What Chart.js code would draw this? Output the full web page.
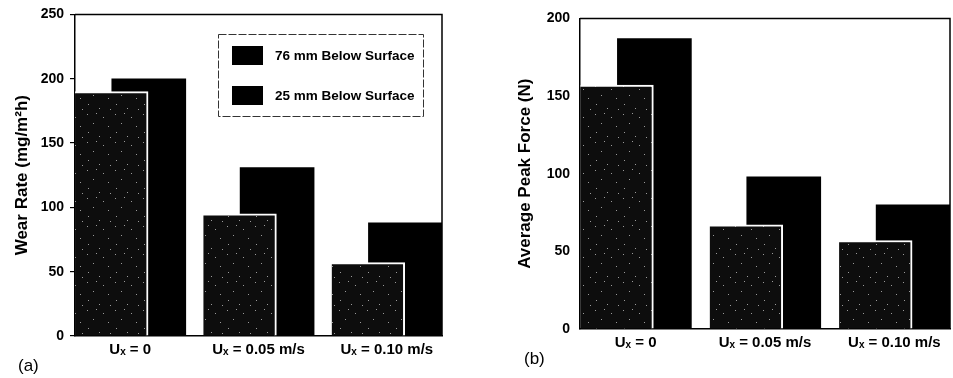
<!DOCTYPE html>
<html><head><meta charset="utf-8">
<script src="https://cdn.jsdelivr.net/npm/chart.js@4.4.0/dist/chart.umd.min.js"></script>
<style>
html,body{margin:0;padding:0;background:#fff;width:953px;height:378px;overflow:hidden;}
#a{position:absolute;left:0;top:0;}
#b{position:absolute;left:480px;top:0;}
.pl{position:absolute;font:17px 'Liberation Sans',Arial,sans-serif;color:#000;}
</style></head><body>
<canvas id="a" width="480" height="378"></canvas>
<canvas id="b" width="473" height="378"></canvas>
<div class="pl" style="left:18px;top:356px">(a)</div>
<div class="pl" style="left:524px;top:349px">(b)</div>
<script>
const categories = ['Uₓ = 0', 'Uₓ = 0.05 m/s', 'Uₓ = 0.10 m/s'];
const seriesNames = ['76 mm Below Surface', '25 mm Below Surface'];
const wearRate76 = [190, 95, 57];
const wearRate25 = [200, 131, 88];
const peakForce76 = [157, 67, 57];
const peakForce25 = [187, 98, 80];
const wearTicks = [0, 50, 100, 150, 200, 250];
const forceTicks = [0, 50, 100, 150, 200];

const FAM = "'Liberation Sans', Arial, Helvetica, sans-serif";

function speckle() {
  const c = document.createElement('canvas'); c.width = 28; c.height = 28;
  const g = c.getContext('2d');
  g.fillStyle = '#0d0d0d'; g.fillRect(0, 0, 28, 28);
  g.fillStyle = '#9a9a9a';
  [[3,2],[19,5],[9,11],[24,14],[4,20],[15,24],[12,1],[26,25]]
    .forEach(([x, y]) => g.fillRect(x, y, 1, 1));
  return g.createPattern(c, 'repeat');
}

const frame = {
  id: 'frame',
  afterDraw(chart) {
    const {ctx, chartArea: a} = chart;
    ctx.save();
    ctx.strokeStyle = '#000'; ctx.lineWidth = 1.5;
    ctx.beginPath();
    ctx.moveTo(a.left, a.top); ctx.lineTo(a.right, a.top); ctx.lineTo(a.right, a.bottom);
    ctx.stroke();
    ctx.restore();
  }
};

const legendBox = {
  id: 'legendBox',
  afterDraw(chart, args, o) {
    if (!o.show) return;
    const ctx = chart.ctx;
    ctx.save();
    ctx.strokeStyle = '#333'; ctx.lineWidth = 1; ctx.setLineDash([8, 2]);
    ctx.strokeRect(o.x + 0.5, o.y + 0.5, o.w, o.h);
    ctx.setLineDash([]);
    chart.data.datasets.forEach((ds, i) => {
      const sy = o.y + 12 + i * 40;
      ctx.fillStyle = '#000';
      ctx.fillRect(o.x + 14, sy, 31, 19);
      ctx.font = 'bold 13.5px ' + FAM;
      ctx.textBaseline = 'middle'; ctx.textAlign = 'left';
      ctx.fillText(ds.label, o.x + 57, sy + 10);
    });
    ctx.restore();
  }
};

function makeChart(id, s76, s25, yTicks, yMax, yTitle, geo) {
  return new Chart(document.getElementById(id), {
    type: 'bar',
    data: {
      datasets: [
        { label: seriesNames[0], data: s76.map((v, i) => ({x: i - 0.145, y: v})),
          backgroundColor: speckle(), borderColor: '#fff',
          borderWidth: {top: 2, right: 2, bottom: 0, left: 0}, borderSkipped: false,
          barThickness: 73, grouped: false },
        { label: seriesNames[1], data: s25.map((v, i) => ({x: i + 0.145, y: v})),
          backgroundColor: '#000', borderWidth: 0,
          barThickness: 74, grouped: false }
      ]
    },
    options: {
      responsive: false, animation: false,
      layout: {padding: {top: 12, right: geo.padRight, left: 0, bottom: 0}},
      plugins: {legend: {display: false}, tooltip: {enabled: false},
        legendBox: geo.legend || {show: false}},
      scales: {
        x: {
          type: 'linear', min: -0.43, max: 2.43, offset: false, bounds: 'ticks',
          afterFit(s) { s.height = geo.xH; },
          afterBuildTicks(s) { s.ticks = categories.map((c, i) => ({value: i})); },
          ticks: {autoSkip: false, maxRotation: 0, padding: 5, color: '#000',
            font: {family: FAM, size: 15, weight: 'bold'},
            callback: (v) => categories[Math.round(v)]},
          grid: {display: false, drawTicks: false},
          border: {display: true, color: '#000', width: 1.5}
        },
        y: {
          min: 0, max: yMax,
          afterFit(s) { s.width = geo.yW; },
          afterBuildTicks(s) { s.ticks = yTicks.map(v => ({value: v})); },
          ticks: {padding: geo.tickPad, color: '#000',
            font: {family: FAM, size: 14, weight: 'bold'}},
          grid: {drawOnChartArea: false, drawTicks: geo.drawTicks, tickLength: 5,
            color: '#000', lineWidth: 1.2},
          border: {display: true, color: '#000', width: 1.5},
          title: {display: true, text: yTitle, color: '#000',
            font: {family: FAM, size: 17, weight: 'bold'},
            padding: {top: geo.titlePad, bottom: 0}}
        }
      }
    },
    plugins: [frame, legendBox]
  });
}

makeChart('a', wearRate76, wearRate25, wearTicks, 250, 'Wear Rate (mg/m²h)',
  {padRight: 38, xH: 42, yW: 75, tickPad: 6, drawTicks: true, titlePad: 12,
   legend: {show: true, x: 218, y: 34, w: 205, h: 82}});
makeChart('b', peakForce76, peakForce25, forceTicks, 200, 'Average Peak Force (N)',
  {padRight: 3, xH: 49, yW: 100, tickPad: 10, drawTicks: false, titlePad: 35});
</script>
</body></html>
